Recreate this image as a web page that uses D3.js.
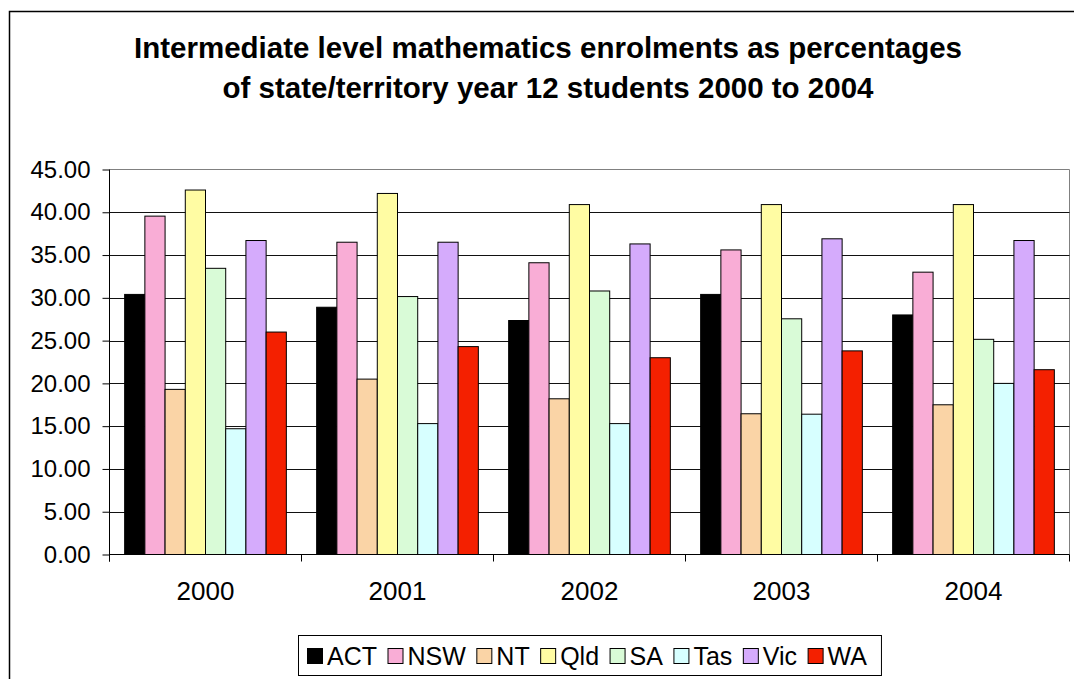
<!DOCTYPE html>
<html>
<head>
<meta charset="utf-8">
<script src="https://cdn.jsdelivr.net/npm/d3@7"></script>
<style>
  html, body { margin: 0; padding: 0; background: #fff; }
  svg { display: block; }
  text { font-family: "Liberation Sans", Arial, sans-serif; fill: #000; }
</style>
</head>
<body>
<svg id="chart" width="1074" height="679"></svg>
<script>
// ---- data ----
const years = ["2000", "2001", "2002", "2003", "2004"];
const states = ["ACT", "NSW", "NT", "Qld", "SA", "Tas", "Vic", "WA"];
const ACT = [30.4, 28.9, 27.35, 30.4, 28.0];
const NSW = [39.55, 36.5, 34.1, 35.6, 33.0];
const NT  = [19.3, 20.5, 18.2, 16.45, 17.5];
const Qld = [42.6, 42.2, 40.9, 40.9, 40.9];
const SA  = [33.45, 30.15, 30.8, 27.55, 25.15];
const Tas = [14.7, 15.3, 15.3, 16.4, 20.0];
const Vic = [36.7, 36.5, 36.3, 36.9, 36.7];
const WA  = [26.0, 24.3, 23.0, 23.8, 21.6];
const yTicks = [0, 5, 10, 15, 20, 25, 30, 35, 40, 45];
const titleLines = ["Intermediate level mathematics enrolments as percentages",
                    "of state/territory year 12 students 2000 to 2004"];

const seriesValues = { ACT, NSW, NT, Qld, SA, Tas, Vic, WA };
const colors = {
  ACT: "#000000", NSW: "#F9ADD6", NT: "#FAD4A6", Qld: "#FFFCA3",
  SA: "#D9FBD7", Tas: "#D7FFFF", Vic: "#D5ABFC", WA: "#F42000"
};

(function () {
const svg = d3.select("#chart");

// outer chart border (extends past right/bottom edge)
svg.append("rect")
  .attr("x", 9.5).attr("y", 11.5)
  .attr("width", 1080).attr("height", 700)
  .attr("fill", "none").attr("stroke", "#000").attr("stroke-width", 1.5);

// title
svg.append("text")
  .attr("x", 548).attr("y", 58)
  .attr("text-anchor", "middle")
  .style("font-weight", "bold").style("font-size", "29.5px")
  .selectAll("tspan").data(titleLines).join("tspan")
  .attr("x", 548).attr("dy", (d, i) => i === 0 ? 0 : 40)
  .text(d => d);

// plot area
const pL = 109.5, pR = 1069.5, pT = 169.5, pB = 554.5;

const x = d3.scaleBand().domain(years).range([pL, pR]).padding(0);
const bw = x.bandwidth();
const gap = bw * 1.5 / 9.5;
const xs = d3.scaleBand().domain(states).range([gap / 2, bw - gap / 2]).padding(0);
const y = d3.scaleLinear().domain([0, 45]).range([pB, pT]);

// plot border (gray) on top & right
svg.append("path")
  .attr("d", `M${pL},${pT}H${pR}V${pB}`)
  .attr("fill", "none").attr("stroke", "#808080").attr("stroke-width", 1);

// gridlines
svg.append("g").selectAll("line").data(yTicks.filter(t => t > 0 && t < 45)).join("line")
  .attr("x1", pL).attr("x2", pR)
  .attr("y1", d => Math.round(y(d)) + 0.5).attr("y2", d => Math.round(y(d)) + 0.5)
  .attr("stroke", "#111").attr("stroke-width", 1);

// bars
const groups = svg.append("g").selectAll("g").data(years).join("g")
  .attr("transform", d => `translate(${x(d)},0)`);
groups.selectAll("rect")
  .data((yr, i) => states.map(s => ({ s, v: seriesValues[s][i] })))
  .join("rect")
  .attr("x", d => xs(d.s))
  .attr("width", xs.bandwidth())
  .attr("y", d => y(d.v))
  .attr("height", d => y(0) - y(d.v))
  .attr("fill", d => colors[d.s])
  .attr("stroke", "#000").attr("stroke-width", 1);

// y axis
const yAxis = d3.axisLeft(y).tickValues(yTicks).tickFormat(d3.format(".2f"))
  .tickSize(7).tickPadding(12);
const gy = svg.append("g").attr("transform", `translate(${pL},0)`).call(yAxis);
gy.select(".domain").remove();
gy.selectAll(".tick line").attr("stroke", "#000");
gy.selectAll("text").style("font-size", "24px")
  .style("font-family", '"Liberation Sans", Arial, sans-serif').attr("fill", "#000");
svg.append("line").attr("x1", pL).attr("x2", pL).attr("y1", pT).attr("y2", pB + 7)
  .attr("stroke", "#000");

// x axis
svg.append("line").attr("x1", pL).attr("x2", pR).attr("y1", pB).attr("y2", pB)
  .attr("stroke", "#000");
const boundaries = years.map(d => x(d)).concat([pR]);
svg.append("g").selectAll("line").data(boundaries).join("line")
  .attr("x1", d => d).attr("x2", d => d).attr("y1", pB).attr("y2", pB + 7)
  .attr("stroke", "#000");
svg.append("g").selectAll("text").data(years).join("text")
  .attr("x", d => x(d) + bw / 2).attr("y", 600)
  .attr("text-anchor", "middle").style("font-size", "26px")
  .text(d => d);

// legend
const lg = svg.append("g");
const lgBox = lg.append("rect")
  .attr("x", 298.5).attr("y", 635.5).attr("height", 40)
  .attr("fill", "#fff").attr("stroke", "#000").attr("stroke-width", 1);
let cx = 307;
states.forEach(s => {
  lg.append("rect").attr("x", cx + 0.5).attr("y", 648.5).attr("width", 15).attr("height", 15)
    .attr("fill", colors[s]).attr("stroke", "#000").attr("stroke-width", 1);
  const t = lg.append("text").attr("x", cx + 20).attr("y", 665)
    .style("font-size", "25px").text(s);
  cx += 20 + t.node().getComputedTextLength() + 10.5;
});
lgBox.attr("width", cx + 4 - 298.5);
})();
</script>
</body>
</html>
